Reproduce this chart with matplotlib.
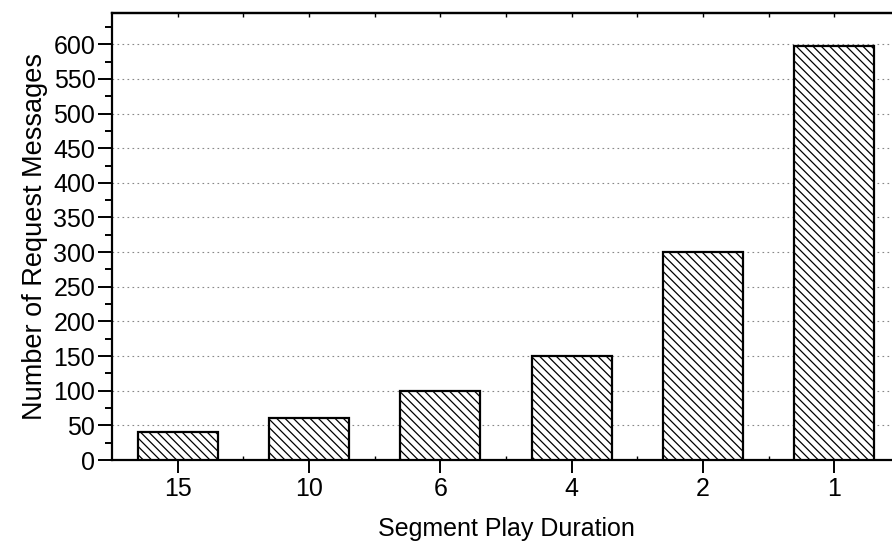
import matplotlib.pyplot as plt
import numpy as np
from matplotlib.ticker import MultipleLocator, NullFormatter

durations = ['15', '10', '6', '4', '2', '1']
requests = [40, 60, 100, 150, 300, 597]

plt.rcParams['font.family'] = ['Liberation Sans', 'DejaVu Sans']
plt.rcParams['hatch.linewidth'] = 0.9


def main():
    fig = plt.figure(figsize=(8.92, 5.44), dpi=100)
    ax = fig.add_axes([0.1256, 0.1544, 0.8834, 0.8216])
    x = np.arange(len(durations))
    ax.bar(x, requests, width=0.61, color='white', edgecolor='black',
           linewidth=1.6, hatch='\\\\\\\\', zorder=3)

    ax.set_xlim(-0.5, 5.5)
    ax.set_ylim(0, 645)
    ax.set_xticks(x)
    ax.set_xticklabels(durations)
    ax.set_xticks(x[:-1] + 0.5, minor=True)
    ax.yaxis.set_major_locator(MultipleLocator(50))
    ax.yaxis.set_minor_locator(MultipleLocator(25))
    ax.set_yticks(np.arange(0, 601, 50))

    ax.grid(axis='y', linestyle=(0, (1.5, 3)), color='#888888', linewidth=0.8, zorder=0)

    for side in ['left', 'bottom', 'top']:
        ax.spines[side].set_linewidth(1.6)
    ax.spines['right'].set_visible(False)

    ax.tick_params(axis='y', which='major', direction='out', length=10, width=1.4,
                   labelsize=18, pad=2)
    ax.tick_params(axis='y', which='minor', direction='out', length=5, width=1.4)
    ax.tick_params(axis='x', which='major', direction='out', length=9, width=1.4,
                   labelsize=18, pad=3)
    ax.tick_params(axis='x', which='minor', direction='in', length=3, width=1.0)

    # small inward ticks on the top edge
    top = ax.secondary_xaxis('top')
    top.set_xticks(x)
    top.set_xticks(x[:-1] + 0.5, minor=True)
    top.xaxis.set_major_formatter(NullFormatter())
    top.spines['top'].set_linewidth(1.6)
    top.tick_params(which='both', direction='in', length=3, width=1.0)

    ax.set_xlabel('Segment Play Duration', fontsize=18, labelpad=12)
    ax.set_ylabel('Number of Request Messages', fontsize=19.5, labelpad=4)

    fig.savefig('out.png', dpi=100)


if __name__ == '__main__':
    main()
